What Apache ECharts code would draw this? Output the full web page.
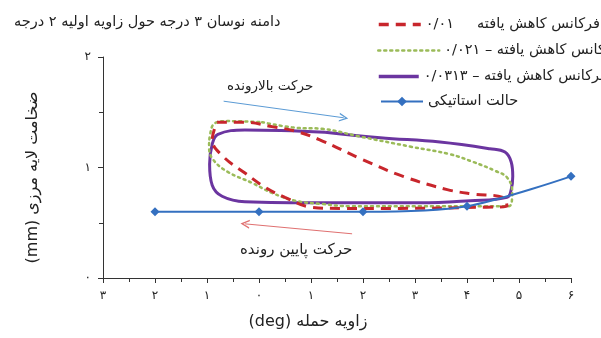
<!DOCTYPE html>
<html><head><meta charset="utf-8">
<script src="https://cdn.jsdelivr.net/npm/echarts@6/dist/echarts.min.js"></script>
<style>html,body{margin:0;padding:0;background:#fff}#c{width:601px;height:338px}</style>
</head><body><div id="c"></div>
<script>
const FONT = 'DejaVu Sans';
const titleText = 'دامنه نوسان ۳ درجه حول زاویه اولیه ۲ درجه';
const xAxisName = '(deg) زاویه حمله';
const yAxisName = '(mm) ضخامت لایه مرزی';
const upText = 'حرکت بالارونده';
const downText = 'حرکت پایین رونده';

const xTickValues = [-3, -2, -1, 0, 1, 2, 3, 4, 5, 6];
const xTickLabels = ['۳', '۲', '۱', '۰', '۱', '۲', '۳', '۴', '۵', '۶'];
const yTickValues = [0, 1, 2];
const yTickLabels = ['۰', '۱', '۲'];

const seriesNames = ['فرکانس کاهش یافته     ۰/۰۱', 'فرکانس کاهش یافته – ۰/۰۲۱', 'فرکانس کاهش یافته – ۰/۰۳۱۳', 'حالت استاتیکی'];

// reduced frequency 0.01 (red dashed)
const redX = [-0.81, -0.27, 0.25, 0.69, 1.17, 2.0, 2.77, 3.62, 4.12, 4.69, 4.77, 4.19, 2.71, 1.56, 1.02, 0.5, 0.12, -0.27, -0.69, -0.90, -0.81];
const redY = [1.41, 1.41, 1.37, 1.33, 1.25, 1.07, 0.92, 0.80, 0.76, 0.73, 0.65, 0.64, 0.63, 0.63, 0.64, 0.73, 0.82, 0.95, 1.10, 1.25, 1.41];
// reduced frequency 0.021 (green dotted)
const greenX = [0.06, 0.69, 1.21, 1.94, 2.90, 3.67, 4.12, 4.54, 4.77, 4.87, 4.81, 4.31, 3.10, 1.75, 1.21, 0.69, 0.25, -0.13, -0.60, -0.88, -0.96, -0.94, -0.85, -0.60, 0.06];
const greenY = [1.41, 1.36, 1.35, 1.28, 1.19, 1.12, 1.05, 0.97, 0.91, 0.78, 0.65, 0.65, 0.65, 0.65, 0.67, 0.70, 0.77, 0.86, 0.96, 1.07, 1.18, 1.30, 1.40, 1.42, 1.41];
// reduced frequency 0.0313 (purple solid)
const purpleX = [1.27, 2.33, 3.48, 4.44, 4.73, 4.85, 4.88, 4.85, 4.77, 4.06, 3.10, 1.27, -0.27, -0.71, -0.90, -0.95, -0.90, -0.79, -0.27, 1.27];
const purpleY = [1.32, 1.27, 1.23, 1.17, 1.14, 1.05, 0.92, 0.80, 0.73, 0.70, 0.68, 0.68, 0.69, 0.74, 0.84, 1.03, 1.21, 1.30, 1.34, 1.32];
// static case (blue with diamonds)
const staticX = [-2, 0, 2, 4, 6];
const staticY = [0.6, 0.6, 0.6, 0.65, 0.92];

// annotation arrows in data units: [x0, y0, x1, y1]
const upArrow = [-0.68, 1.60, 1.63, 1.45];
const downArrow = [1.79, 0.40, -0.27, 0.49];

const zip = (xs, ys) => xs.map((x, i) => [x, ys[i]]);
const chevron = 'path://M0,10 L5,0 L10,10 L8.4,10 L5,3.2 L1.6,10 Z';

const chart = echarts.init(document.getElementById('c'), null, {renderer: 'canvas'});
const legendBase = {orient: 'vertical', itemHeight: 12, textStyle: {fontFamily: FONT, fontSize: 14.5, color: '#222'}, selectedMode: false};
chart.setOption({
  animation: false,
  backgroundColor: '#fff',
  title: {text: titleText, left: 9, top: 10, textStyle: {fontFamily: FONT, fontSize: 14.5, fontWeight: 'normal', color: '#222'}},
  legend: [
    Object.assign({}, legendBase, {data: [seriesNames[0]], left: 372, top: 12, itemWidth: 42, itemStyle: {opacity: 0}, lineStyle: {width: 3.5}}),
    Object.assign({}, legendBase, {data: [seriesNames[1]], left: 372, top: 38, itemWidth: 61, itemStyle: {opacity: 0}, lineStyle: {width: 2.5}}),
    Object.assign({}, legendBase, {data: [seriesNames[2]], left: 372, top: 64, itemWidth: 40, itemStyle: {opacity: 0}, lineStyle: {width: 3.5}}),
    Object.assign({}, legendBase, {data: [seriesNames[3]], left: 375, top: 89, itemWidth: 42, lineStyle: {width: 2}})
  ],
  grid: {left: 103, right: 30, top: 57, bottom: 60},
  xAxis: {
    type: 'value', min: -3, max: 6, interval: 1,
    name: xAxisName, nameLocation: 'middle', nameGap: 36,
    nameTextStyle: {fontFamily: FONT, fontSize: 16, color: '#222', padding: [0, 58, 0, 0]},
    axisLine: {onZero: false, lineStyle: {color: '#333', width: 1}},
    axisTick: {show: true, length: 5, lineStyle: {color: '#333'}},
    minorTick: {show: true, splitNumber: 2, length: 4, lineStyle: {color: '#333'}},
    splitLine: {show: false},
    axisLabel: {margin: 12, fontFamily: FONT, fontSize: 12, color: '#222',
      formatter: v => { const i = xTickValues.indexOf(Math.round(v)); return i >= 0 ? xTickLabels[i] : ''; }}
  },
  yAxis: {
    type: 'value', min: 0, max: 2, interval: 1,
    name: yAxisName, nameLocation: 'middle', nameGap: 62,
    nameTextStyle: {fontFamily: FONT, fontSize: 16, color: '#222', padding: [0, 20, 0, 0]},
    axisLine: {show: true, onZero: false, lineStyle: {color: '#333', width: 1}},
    axisTick: {show: true, length: 5, lineStyle: {color: '#333'}},
    minorTick: {show: true, splitNumber: 2, length: 4, lineStyle: {color: '#333'}},
    splitLine: {show: false},
    axisLabel: {margin: 12, fontFamily: FONT, fontSize: 12, color: '#222',
      formatter: v => { const i = yTickValues.indexOf(Math.round(v)); return i >= 0 ? yTickLabels[i] : ''; }}
  },
  series: [
    {name: seriesNames[2], type: 'line', data: zip(purpleX, purpleY), smooth: 0.4, showSymbol: false, symbol: 'none',
      lineStyle: {color: '#6b35a0', width: 3}, itemStyle: {color: '#6b35a0'}},
    {name: seriesNames[1], type: 'line', data: zip(greenX, greenY), smooth: 0.4, showSymbol: false, symbol: 'none',
      lineStyle: {color: '#9bbb59', width: 2.5, type: [2, 4], cap: 'round'}, itemStyle: {color: '#9bbb59'}},
    {name: seriesNames[0], type: 'line', data: zip(redX, redY), smooth: 0.4, showSymbol: false, symbol: 'none',
      lineStyle: {color: '#c8262c', width: 3, type: [10, 7]}, itemStyle: {color: '#c8262c'}},
    {name: seriesNames[3], type: 'line', data: zip(staticX, staticY), smooth: 0.3, symbol: 'diamond', symbolSize: 9,
      lineStyle: {color: '#3470c0', width: 2}, itemStyle: {color: '#3470c0'},
      markLine: {silent: true, symbol: ['none', chevron], symbolSize: [9, 9], label: {show: false},
        data: [
          [{coord: [upArrow[0], upArrow[1]], lineStyle: {color: '#5b9bd5', width: 1, type: 'solid'}}, {coord: [upArrow[2], upArrow[3]]}],
          [{coord: [downArrow[0], downArrow[1]], lineStyle: {color: '#e07070', width: 1, type: 'solid'}}, {coord: [downArrow[2], downArrow[3]]}]
        ]}}
  ],
  graphic: [
    {type: 'text', left: 227, top: 79, style: {text: upText, font: '13.5px "DejaVu Sans"', fill: '#222'}},
    {type: 'text', left: 240, top: 243, style: {text: downText, font: '15px "DejaVu Sans"', fill: '#222'}}
  ]
});
</script></body></html>
